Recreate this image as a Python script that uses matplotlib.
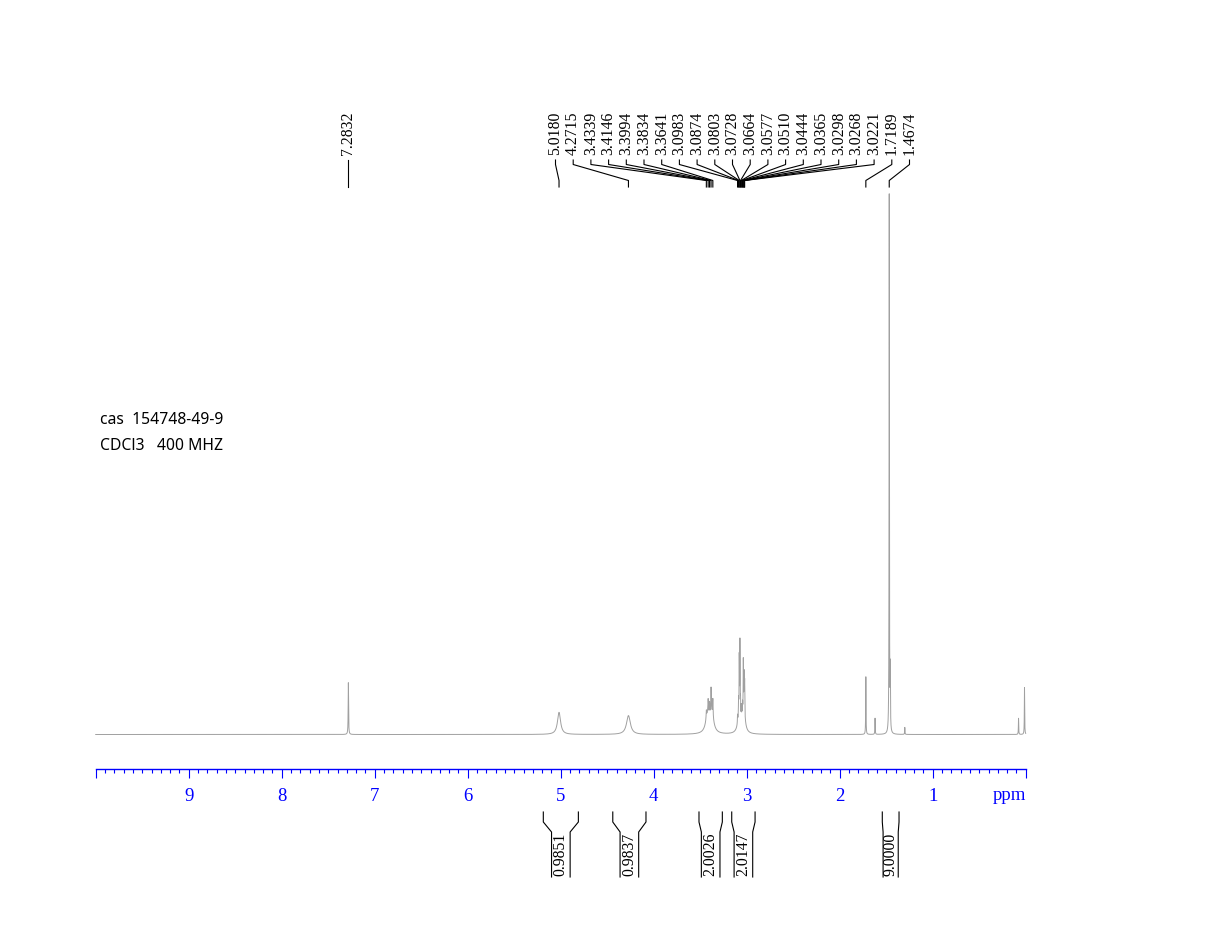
import numpy as np
import matplotlib
matplotlib.use("Agg")
import matplotlib.pyplot as plt

# ---------------- data ----------------
# peak list (ppm, relative height, half width at half max in ppm)
peak_ppm = [7.2832, 5.0180, 4.2715,
            3.4200, 3.3750, 3.4339, 3.4146, 3.3994, 3.3834, 3.3641,
            3.0800, 3.0300, 3.0983, 3.0874, 3.0803, 3.0728, 3.0664, 3.0577,
            3.0510, 3.0444, 3.0365, 3.0298, 3.0268, 3.0221,
            1.7189, 1.6200, 1.4674, 1.4560, 1.3000, 0.0770, 0.0130]
peak_height = [9.6, 4.1, 3.5,
               3.2, 3.2, 1.5, 2.5, 2.3, 4.7, 3.3,
               3.0, 3.0, 1.5, 3.0, 10.5, 13.5, 3.0, 2.5,
               2.0, 2.5, 10.0, 4.0, 6.0, 6.0,
               10.7, 3.0, 100.0, 11.0, 1.3, 3.0, 8.7]
peak_hwhm = [0.0025, 0.020, 0.025,
             0.025, 0.025, 0.003, 0.003, 0.003, 0.003, 0.003,
             0.020, 0.020, 0.002, 0.002, 0.002, 0.002, 0.002, 0.002,
             0.002, 0.002, 0.002, 0.002, 0.002, 0.002,
             0.002, 0.002, 0.002, 0.002, 0.002, 0.002, 0.002]

solvent_label = ["7.2832"]
solvent_label_ppm = [7.2832]
peak_labels = ["5.0180", "4.2715", "3.4339", "3.4146", "3.3994", "3.3834",
               "3.3641", "3.0983", "3.0874", "3.0803", "3.0728", "3.0664",
               "3.0577", "3.0510", "3.0444", "3.0365", "3.0298", "3.0268",
               "3.0221", "1.7189", "1.4674"]

int_from = [5.187, 4.440, 3.513, 3.161, 1.542]
int_to = [4.810, 4.083, 3.262, 2.910, 1.362]
int_values = ["0.9851", "0.9837", "2.0026", "2.0147", "9.0000"]

axis_ticks = [0, 1, 2, 3, 4, 5, 6, 7, 8, 9, 10]
axis_ticklabels = ["", "1", "2", "3", "4", "5", "6", "7", "8", "9", ""]

info_lines = ["cas  154748-49-9", "CDCl3   400 MHZ"]

# ---------------- figure ----------------
W, H = 1208, 952
plt.rcParams["font.family"] = ["Liberation Serif", "DejaVu Serif"]
fig = plt.figure(figsize=(W / 100, H / 100), dpi=100)


def fy(y):
    return 1 - y / H


X0, XW = 95.7, 930.0
BASE, TOP = 734.5, 195.0

ax = fig.add_axes([X0 / W, fy(BASE), XW / W, (BASE - TOP) / H])
ax.set_xlim(10, 0)
ax.set_ylim(0, 100)
ax.axis("off")

x = np.linspace(10, 0, 60001)
y = np.zeros_like(x)
for p, h, w in zip(peak_ppm, peak_height, peak_hwhm):
    y += h / (1 + ((x - p) / w) ** 2)
ax.plot(x, y, color="#a0a0a0", lw=0.7, clip_on=False)

# ppm scale
axs = fig.add_axes([X0 / W, fy(769), XW / W, 0.0005])
axs.set_xlim(10, 0)
axs.set_ylim(0, 1)
axs.patch.set_visible(False)
for s in ["top", "left", "right"]:
    axs.spines[s].set_visible(False)
axs.spines["bottom"].set_color("blue")
axs.spines["bottom"].set_linewidth(1.0)
axs.set_yticks([])
axs.set_xticks(axis_ticks)
axs.set_xticklabels(axis_ticklabels)
axs.set_xticks(np.arange(0, 10.001, 0.1), minor=True)
axs.tick_params(axis="x", which="major", direction="out", length=6.5,
                width=0.8, color="blue", labelcolor="blue", labelsize=13.5,
                pad=7)
axs.tick_params(axis="x", which="minor", direction="out", length=3.2,
                width=0.8, color="blue")

# overlay in pixel coordinates
ov = fig.add_axes([0, 0, 1, 1])
ov.set_xlim(0, W)
ov.set_ylim(H, 0)
ov.axis("off")


def px(ppm):
    return ax.transData.transform((ppm, 0))[0]


ov.text(px(0), 800.5, "ppm", ha="right", va="baseline", fontsize=13.5,
        color="blue")

# peak labels
LBL_BOT, L1, L2, L3, L4 = 155, 160, 164.5, 180.5, 187
for s, p in zip(solvent_label, solvent_label_ppm):
    xp = px(p)
    ov.text(xp, LBL_BOT, s, rotation=90, ha="center", va="bottom",
            fontsize=11.3)
    ov.plot([xp, xp], [L1, L4], color="black", lw=0.8)

first_x, step = 555.5, 17.7
for i, s in enumerate(peak_labels):
    xl = first_x + i * step
    xp = px(float(s))
    ov.text(xl, LBL_BOT, s, rotation=90, ha="center", va="bottom",
            fontsize=11.3)
    ov.plot([xl, xl, xp, xp], [L1, L2, L3, L4], color="black", lw=0.8)

# integrals
I_TOP, I_K1, I_K2, I_BOT = 812, 822, 832, 877
for a, b, v in zip(int_from, int_to, int_values):
    xa, xb = px(a), px(b)
    xc = (xa + xb) / 2
    half = (xb - xa) / 2
    inner = min(9.3, half - 0.8)
    ov.plot([xa, xa, xc - inner, xc - inner], [I_TOP, I_K1, I_K2, I_BOT],
            color="black", lw=0.8)
    ov.plot([xb, xb, xc + inner, xc + inner], [I_TOP, I_K1, I_K2, I_BOT],
            color="black", lw=0.8)
    ov.text(xc, I_BOT - 1, v, rotation=90, ha="center", va="bottom",
            fontsize=11.3)

# sample info
for i, s in enumerate(info_lines):
    ov.text(100, 420 + i * 26, s, ha="left", va="center", fontsize=11.3,
            family=["Noto Sans", "DejaVu Sans"], color="black")

fig.savefig("out.png", dpi=100)
